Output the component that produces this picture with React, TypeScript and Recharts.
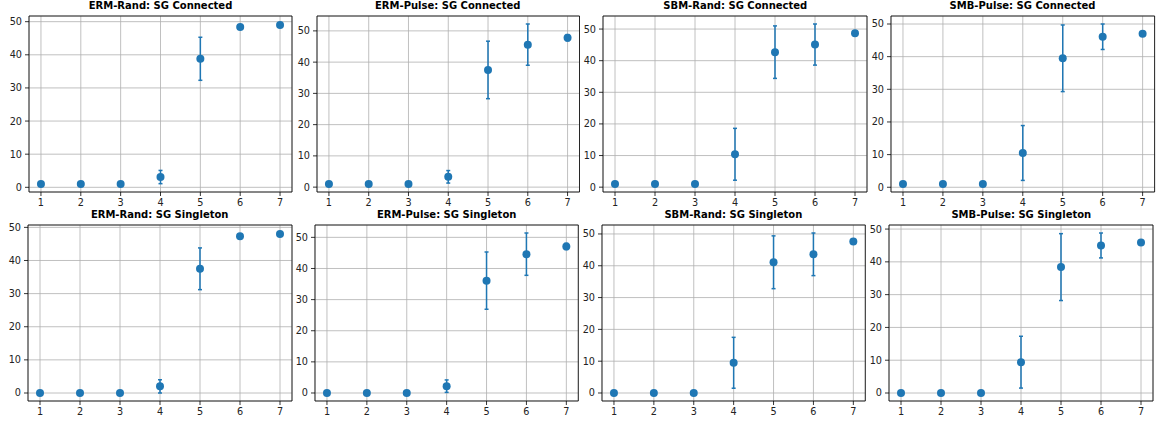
import React from 'react';
import { ScatterChart, Scatter, XAxis, YAxis, CartesianGrid, ErrorBar, ReferenceArea } from 'recharts';

const xValues = [1, 2, 3, 4, 5, 6, 7];
const xTicks = [1, 2, 3, 4, 5, 6, 7];
const yTicks = [0, 10, 20, 30, 40, 50];

const titles = [
  'ERM-Rand: SG Connected',
  'ERM-Pulse: SG Connected',
  'SBM-Rand: SG Connected',
  'SMB-Pulse: SG Connected',
  'ERM-Rand: SG Singleton',
  'ERM-Pulse: SG Singleton',
  'SBM-Rand: SG Singleton',
  'SMB-Pulse: SG Singleton',
];

const ermRandConnMean = [1, 1, 1, 3.1, 38.8, 48.4, 49.0];
const ermRandConnErr = [0, 0, 0, 2.0, 6.5, 0.3, 0.3];
const ermPulseConnMean = [1, 1, 1, 3.3, 37.5, 45.6, 47.8];
const ermPulseConnErr = [0, 0, 0, 2.0, 9.2, 6.6, 1.0];
const sbmRandConnMean = [1, 1, 1, 10.4, 42.7, 45.1, 48.7];
const sbmRandConnErr = [0, 0, 0, 8.2, 8.3, 6.5, 0.3];
const smbPulseConnMean = [1, 1, 1, 10.5, 39.5, 46.1, 47.0];
const smbPulseConnErr = [0, 0, 0, 8.4, 10.2, 3.9, 0.3];
const ermRandSingMean = [0, 0, 0, 2.0, 37.5, 47.3, 48.0];
const ermRandSingErr = [0, 0, 0, 2.0, 6.3, 0.3, 0.3];
const ermPulseSingMean = [0, 0, 0, 2.2, 36.1, 44.6, 47.1];
const ermPulseSingErr = [0, 0, 0, 2.0, 9.2, 6.8, 1.0];
const sbmRandSingMean = [0, 0, 0, 9.5, 41.1, 43.6, 47.6];
const sbmRandSingErr = [0, 0, 0, 8.0, 8.3, 6.7, 0.3];
const smbPulseSingMean = [0, 0, 0, 9.4, 38.4, 45.0, 45.9];
const smbPulseSingErr = [0, 0, 0, 7.9, 10.2, 3.8, 0.4];

const means = [
  ermRandConnMean, ermPulseConnMean, sbmRandConnMean, smbPulseConnMean,
  ermRandSingMean, ermPulseSingMean, sbmRandSingMean, smbPulseSingMean,
];
const errs = [
  ermRandConnErr, ermPulseConnErr, sbmRandConnErr, smbPulseConnErr,
  ermRandSingErr, ermPulseSingErr, sbmRandSingErr, smbPulseSingErr,
];

// plot-area layout (left, top, width, height)
const layout = [
  { l: 29, t: 16, w: 263, h: 176 },
  { l: 316.5, t: 16, w: 262.5, h: 176 },
  { l: 603.3, t: 16, w: 264, h: 176 },
  { l: 890.7, t: 16, w: 263.6, h: 176 },
  { l: 27.7, t: 224.5, w: 264, h: 176 },
  { l: 315, t: 224.5, w: 263.3, h: 176 },
  { l: 601.7, t: 224.5, w: 263.3, h: 176 },
  { l: 889.3, t: 224.5, w: 264, h: 176 },
];

const BLUE = '#1f77b4';
const FONT = 'DejaVu Sans';
const YW = 40;
const MT = 4;
const MR = 4;
const XH = 22;

const Dot = (props: any) => <circle cx={props.cx} cy={props.cy} r={4} fill={BLUE} />;

function Panel({ idx }: { idx: number }) {
  const m = means[idx];
  const e = errs[idx];
  const data = xValues.map((x, i) => ({ x, y: m[i], err: e[i] }));
  const lo = Math.min(...data.map((d) => d.y - d.err));
  const hi = Math.max(...data.map((d) => d.y + d.err));
  const pad = (hi - lo) * 0.05;
  const yDom: [number, number] = [lo - pad, hi + pad];
  const xDom: [number, number] = [0.7, 7.3];
  const L = layout[idx];
  const tickStyle = { fill: '#222', fontSize: 9.7, fontFamily: FONT };
  return (
    <>
      <div
        style={{
          position: 'absolute',
          left: L.l,
          top: L.t - 16,
          width: L.w,
          textAlign: 'center',
          fontFamily: FONT,
          fontWeight: 'bold',
          fontSize: 10,
          lineHeight: '12px',
          color: '#000',
          whiteSpace: 'nowrap',
        }}
      >
        {titles[idx]}
      </div>
      <div style={{ position: 'absolute', left: L.l - YW, top: L.t - MT }}>
        <ScatterChart
          width={L.w + YW + MR}
          height={L.h + MT + XH}
          margin={{ top: MT, right: MR, left: 0, bottom: 0 }}
        >
          <CartesianGrid stroke="#b0b0b0" strokeWidth={0.8} />
          <XAxis
            type="number"
            dataKey="x"
            domain={xDom}
            ticks={xTicks}
            allowDataOverflow
            interval={0}
            height={XH}
            axisLine={false}
            tickLine={{ stroke: '#000', strokeWidth: 0.8 }}
            tickSize={4}
            tickMargin={3}
            tick={tickStyle}
          />
          <YAxis
            type="number"
            dataKey="y"
            domain={yDom}
            ticks={yTicks}
            allowDataOverflow
            interval={0}
            width={YW}
            axisLine={false}
            tickLine={{ stroke: '#000', strokeWidth: 0.8 }}
            tickSize={4}
            tickMargin={3}
            tick={tickStyle}
          />
          <Scatter data={data} fill={BLUE} shape={Dot} isAnimationActive={false}>
            <ErrorBar dataKey="err" direction="y" width={2} strokeWidth={1.5} stroke={BLUE} isAnimationActive={false} />
          </Scatter>
          <ReferenceArea
            x1={xDom[0]}
            x2={xDom[1]}
            y1={yDom[0]}
            y2={yDom[1]}
            fill="none"
            stroke="#000"
            strokeWidth={0.8}
            ifOverflow="visible"
          />
        </ScatterChart>
      </div>
    </>
  );
}

export default function App() {
  return (
    <div style={{ position: 'absolute', left: 0, top: 0, width: 1156, height: 423, background: '#fff', overflow: 'hidden' }}>
      {titles.map((_, i) => (
        <Panel key={i} idx={i} />
      ))}
    </div>
  );
}
